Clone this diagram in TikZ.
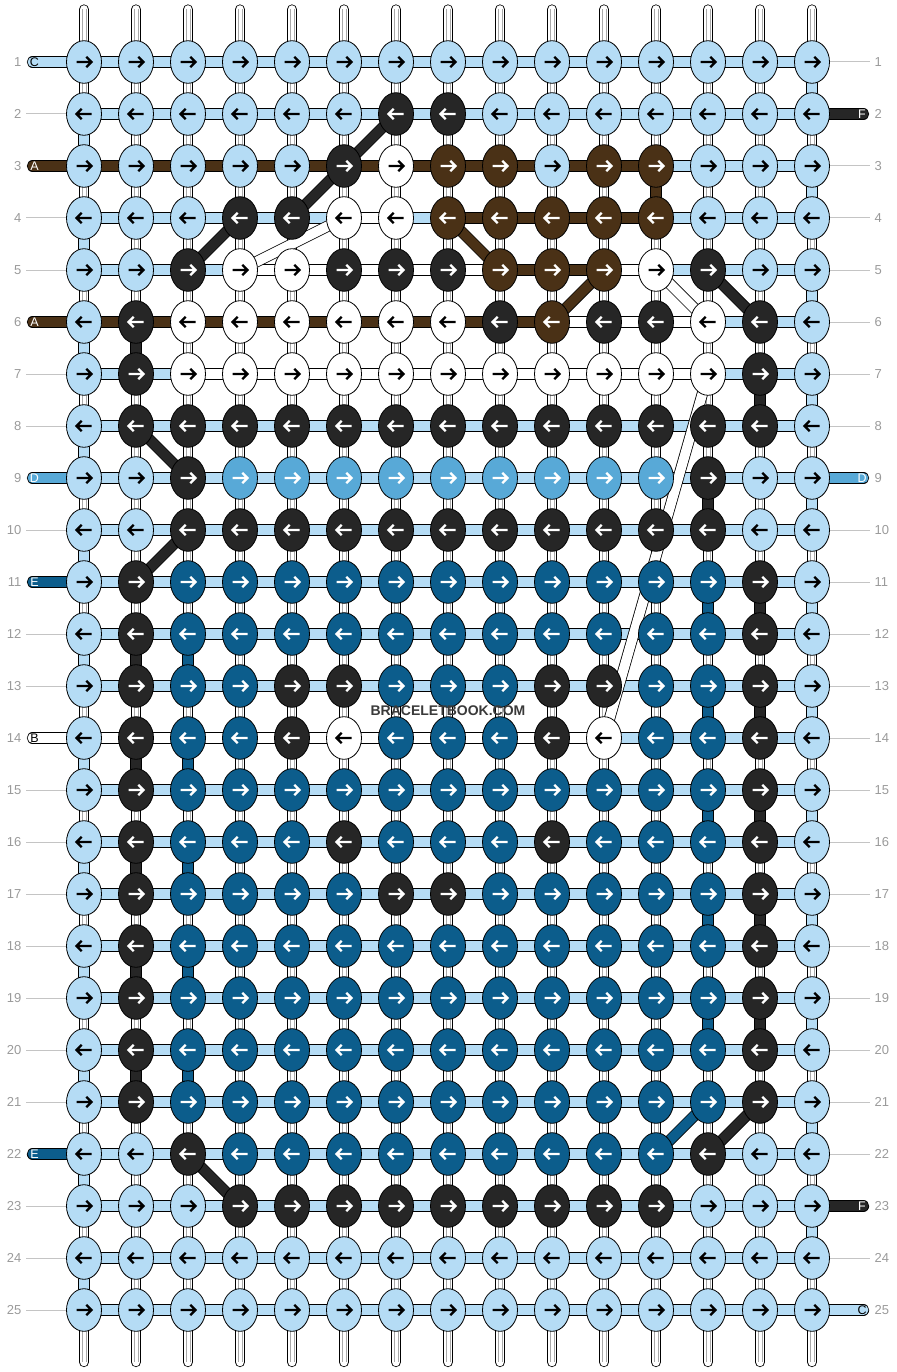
\documentclass[tikz,border=0pt]{standalone}
\usepackage{fontspec}
\setmainfont{Liberation Sans}
\usetikzlibrary{shapes.geometric}
\definecolor{cL}{HTML}{B5DCF5}
\definecolor{cK}{HTML}{262626}
\definecolor{cW}{HTML}{FFFFFF}
\definecolor{cN}{HTML}{4A3116}
\definecolor{cM}{HTML}{58A9D7}
\definecolor{cD}{HTML}{0C5D8C}
\colorlet{aL}{black}\colorlet{aW}{black}
\colorlet{aK}{white}\colorlet{aN}{white}\colorlet{aM}{white}\colorlet{aD}{white}
\definecolor{numgray}{HTML}{9A9A9A}
\definecolor{linegray}{HTML}{C4C4C4}
\definecolor{warpgray}{HTML}{A8A8A8}
\definecolor{wmark}{HTML}{3A3A3A}
\begin{document}
\begin{tikzpicture}[x=1pt,y=-1pt,
 band/.style={draw=black,line width=0.8pt,double=#1,double distance=9.7pt},
 warpbar/.style={draw=black,line width=0.8pt,double=white,double distance=8.6pt,line cap=round},
 warpline/.style={draw=warpgray,line width=0.6pt},
 knot/.style={ellipse,draw=black,line width=0.8pt,minimum width=35pt,minimum height=42.6pt,inner sep=0pt},
 arw/.style={line width=2.4pt,line join=miter},
 num/.style={text=numgray,font=\fontsize{13}{13}\selectfont,inner sep=0pt},
 tabtxt/.style={font=\fontsize{12.5}{12.5}\selectfont,inner sep=0pt},
 guide/.style={draw=linegray,line width=1pt},
]
\useasboundingbox (0,0) rectangle (896,1372);
% grid points
\foreach \r in {1,...,25}{\foreach \c in {1,...,15}{
  \coordinate (p-\r-\c) at ({84+52*(\c-1)},{62+52*(\r-1)});}}
% warp strings
\foreach \c in {1,...,15}{
  \coordinate (wt-\c) at ({84+52*(\c-1)},9.5);
  \coordinate (wb-\c) at ({84+52*(\c-1)},1362);
  \draw[warpbar] (wt-\c) -- (wb-\c);
  \draw[warpline] ([xshift=-1.9pt]wt-\c) -- ([xshift=-1.9pt]wb-\c)
                  ([xshift=1.9pt]wt-\c) -- ([xshift=1.9pt]wb-\c);
}
% guide lines (rows without tabs)
\foreach \r in {2,4,5,7,8,10,12,13,15,16,17,18,19,20,21,23,24,25}{
  \coordinate (gl-\r) at (26,{62+52*(\r-1)});
  \draw[guide] (gl-\r) -- (p-\r-1);}
\foreach \r in {1,3,4,5,6,7,8,10,11,12,13,14,15,16,17,18,19,20,21,22,24}{
  \coordinate (gr-\r) at (870,{62+52*(\r-1)});
  \draw[guide] (p-\r-15) -- (gr-\r);}
% horizontal background bands
\foreach \r in {1,...,25}{\draw[band=cL] (p-\r-1) -- (p-\r-15);}
% coloured horizontal runs
\foreach \r/\a/\b/\col in {3/1/12/N, 4/6/7/W, 4/8/12/N, 5/4/9/W, 5/9/11/N, 5/11/12/W,
  6/1/10/N, 6/10/13/W, 7/3/13/W, 14/1/11/W}{
  \draw[band=c\col] (p-\r-\a) -- (p-\r-\b);}
% left tabs
\foreach \r/\col/\t/\tc in {1/L/C/black, 3/N/A/white, 6/N/A/white, 9/M/D/white,
  11/D/E/white, 14/W/B/black, 22/D/E/white}{
  \coordinate (lt-\r) at (32.5,{62+52*(\r-1)});
  \draw[band=c\col,line cap=round] (lt-\r) -- (p-\r-1);
  \node[tabtxt,text=\tc] (ltx-\r) at (34.5,{62+52*(\r-1)}) {\t};}
% right tabs
\foreach \r/\col/\t/\tc in {2/K/F/white, 9/M/D/white, 23/K/F/white, 25/L/C/black}{
  \coordinate (rt-\r) at (863.5,{62+52*(\r-1)});
  \draw[band=c\col,line cap=round] (p-\r-15) -- (rt-\r);
  \node[tabtxt,text=\tc] (rtx-\r) at (862,{62+52*(\r-1)}) {\t};}
% vertical coloured links
\foreach \r in {2,4,...,24}{\pgfmathtruncatemacro\s{\r+1}\draw[band=cL] (p-\r-1) -- (p-\s-1);}
\foreach \r in {1,3,...,23}{\pgfmathtruncatemacro\s{\r+1}\draw[band=cL] (p-\r-15) -- (p-\s-15);}
\foreach \r/\c/\col in {6/2/K, 12/2/K, 14/2/K, 16/2/K, 18/2/K, 20/2/K,
  7/14/K, 11/14/K, 13/14/K, 15/14/K, 17/14/K, 19/14/K, 9/13/K,
  12/3/D, 14/3/D, 16/3/D, 18/3/D, 20/3/D,
  11/13/D, 13/13/D, 15/13/D, 17/13/D, 19/13/D, 3/12/N}{
  \pgfmathtruncatemacro\s{\r+1}\draw[band=c\col] (p-\r-\c) -- (p-\s-\c);}
% diagonal links
\foreach \a/\b/\c/\d/\col in {2/7/3/6/K, 3/6/4/5/K, 4/4/5/3/K, 5/13/6/14/K, 8/2/9/3/K,
  10/3/11/2/K, 21/14/22/13/K, 22/3/23/4/K, 4/8/5/9/N, 5/11/6/10/N,
  4/6/5/4/W, 5/12/6/13/W, 7/13/14/11/W, 21/13/22/12/D}{
  \draw[band=c\col] (p-\a-\b) -- (p-\c-\d);}
% knots
\foreach \r/\kr in {
 1/{L,L,L,L,L,L,L,L,L,L,L,L,L,L,L},
 2/{L,L,L,L,L,L,K,K,L,L,L,L,L,L,L},
 3/{L,L,L,L,L,K,W,N,N,L,N,N,L,L,L},
 4/{L,L,L,K,K,W,W,N,N,N,N,N,L,L,L},
 5/{L,L,K,W,W,K,K,K,N,N,N,W,K,L,L},
 6/{L,K,W,W,W,W,W,W,K,N,K,K,W,K,L},
 7/{L,K,W,W,W,W,W,W,W,W,W,W,W,K,L},
 8/{L,K,K,K,K,K,K,K,K,K,K,K,K,K,L},
 9/{L,L,K,M,M,M,M,M,M,M,M,M,K,L,L},
 10/{L,L,K,K,K,K,K,K,K,K,K,K,K,L,L},
 11/{L,K,D,D,D,D,D,D,D,D,D,D,D,K,L},
 12/{L,K,D,D,D,D,D,D,D,D,D,D,D,K,L},
 13/{L,K,D,D,K,K,D,D,D,K,K,D,D,K,L},
 14/{L,K,D,D,K,W,D,D,D,K,W,D,D,K,L},
 15/{L,K,D,D,D,D,D,D,D,D,D,D,D,K,L},
 16/{L,K,D,D,D,K,D,D,D,K,D,D,D,K,L},
 17/{L,K,D,D,D,D,K,K,D,D,D,D,D,K,L},
 18/{L,K,D,D,D,D,D,D,D,D,D,D,D,K,L},
 19/{L,K,D,D,D,D,D,D,D,D,D,D,D,K,L},
 20/{L,K,D,D,D,D,D,D,D,D,D,D,D,K,L},
 21/{L,K,D,D,D,D,D,D,D,D,D,D,D,K,L},
 22/{L,L,K,D,D,D,D,D,D,D,D,D,K,L,L},
 23/{L,L,L,K,K,K,K,K,K,K,K,K,L,L,L},
 24/{L,L,L,L,L,L,L,L,L,L,L,L,L,L,L},
 25/{L,L,L,L,L,L,L,L,L,L,L,L,L,L,L}}{
  \pgfmathsetmacro\dir{ifthenelse(mod(\r,2)==1,1,-1)}
  \foreach \col [count=\c] in \kr {
    \node[knot,fill=c\col] (k-\r-\c) at (p-\r-\c) {};
    \draw[arw,draw=a\col,shift={(p-\r-\c)}] ({-7.5*\dir},0) -- ({7.5*\dir},0)
      ({2.3*\dir},-5.2) -- ({7.5*\dir},0) -- ({2.3*\dir},5.2);
  }
  \node[num,anchor=east] (nl-\r) at (21.5,{62+52*(\r-1)}) {\r};
  \node[num,anchor=west] (nr-\r) at (874.5,{62+52*(\r-1)}) {\r};
}
\node[text=wmark,font=\bfseries\fontsize{14}{14}\selectfont,inner sep=0pt] (wm) at (448,711) {BRACELETBOOK.COM};
\end{tikzpicture}
\end{document}
